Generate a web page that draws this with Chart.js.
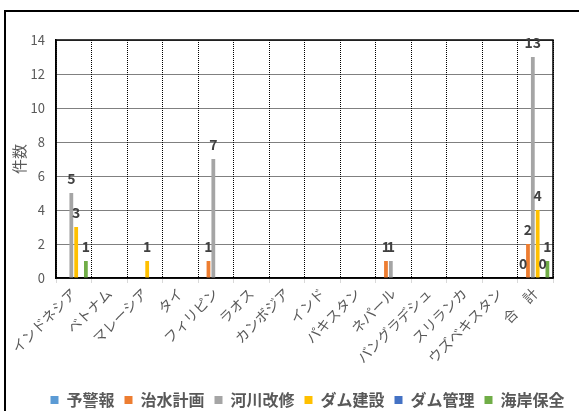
<!DOCTYPE html>
<html>
<head>
<meta charset="utf-8">
<script src="https://cdn.jsdelivr.net/npm/chart.js@4"></script>
<style>
    html,body{margin:0;padding:0;background:#fff;overflow:hidden;}
    #wrap{position:relative;width:579px;height:411px;}
    #frame{position:absolute;left:4px;top:10px;width:640px;height:480px;border:2px solid #000;}
    #usageChart{position:absolute;left:0;top:0;}
</style>
</head>
<body>
<div id="wrap">
    <div id="frame"></div>
    <canvas id="usageChart" width="579" height="411"></canvas>
</div>
<script>

// ==========================
// Data
// ==========================

const countries=[
    "インドネシア","ベトナム","マレーシア","タイ","フィリピン","ラオス","カンボジア",
    "インド","パキスタン","ネパール","バングラデシュ","スリランカ","ウズベキスタン","合　計"
];

const yoKeiho    =[null,null,null,null,null,null,null,null,null,null,null,null,null,0];
const chisuiKeikaku=[null,null,null,null,1,null,null,null,null,1,null,null,null,2];
const kasenKaishu=[5,null,null,null,7,null,null,null,null,1,null,null,null,13];
const damKensetsu=[3,null,1,null,null,null,null,null,null,null,null,null,null,4];
const damKanri   =[null,null,null,null,null,null,null,null,null,null,null,null,null,0];
const kaiganHozen=[1,null,null,null,null,null,null,null,null,null,null,null,null,1];

const yTicks=[0,2,4,6,8,10,12,14];

const FONT="'Noto Sans CJK JP', 'Noto Sans', sans-serif";

// ==========================
// Plugins
// ==========================

// solid box round the plot area
const plotFrame={
    id:"plotFrame",
    beforeDatasetsDraw(chart){
        const a=chart.chartArea, c=chart.ctx;
        c.save();
        c.strokeStyle="#000";
        c.lineWidth=1.5;
        c.strokeRect(a.left,a.top,a.right-a.left,a.bottom-a.top);
        c.restore();
    }
};

// numbers above the bars
const valueLabels={
    id:"valueLabels",
    afterDatasetsDraw(chart){
        const c=chart.ctx;
        c.save();
        c.font="bold 14px "+FONT;
        c.fillStyle="#404040";
        c.textAlign="center";
        c.textBaseline="alphabetic";
        chart.data.datasets.forEach((ds,di)=>{
            chart.getDatasetMeta(di).data.forEach((el,i)=>{
                const v=ds.data[i];
                if(v===null||v===undefined) return;
                c.fillText(String(v),el.x,el.y-9);
            });
        });
        c.restore();
    }
};

// nudge the legend a bit right / down
const legendShift={
    id:"legendShift",
    afterLayout(chart){
        const lg=chart.legend;
        if(!lg) return;
        lg.left+=28; lg.right+=28;
        lg.top+=7; lg.bottom+=7;
    }
};

// ==========================
// Chart
// ==========================

const mk=(label,data,color)=>({
    label:label,
    data:data,
    backgroundColor:color,
    borderWidth:0,
    barPercentage:0.78,
    categoryPercentage:0.82
});

new Chart(document.getElementById("usageChart"),{

    type:"bar",

    data:{
        labels:countries,
        datasets:[
            mk("予警報",yoKeiho,"#5B9BD5"),
            mk("治水計画",chisuiKeikaku,"#ED7D31"),
            mk("河川改修",kasenKaishu,"#A5A5A5"),
            mk("ダム建設",damKensetsu,"#FFC000"),
            mk("ダム管理",damKanri,"#4472C4"),
            mk("海岸保全",kaiganHozen,"#70AD47")
        ]
    },

    options:{
        responsive:false,
        animation:false,
        layout:{
            padding:{left:6,right:26,top:40,bottom:0}
        },
        plugins:{
            legend:{
                position:"bottom",
                labels:{
                    boxWidth:8,
                    boxHeight:8,
                    padding:10,
                    color:"#595959",
                    font:{family:FONT,size:16,weight:"bold"}
                }
            },
            tooltip:{enabled:false}
        },
        scales:{
            x:{
                grid:{
                    color:"#000",
                    tickColor:"#d9d9d9",
                    tickLength:5,
                    offset:true
                },
                border:{color:"#000",width:1.5,dash:[1,1]},
                ticks:{
                    color:"#595959",
                    font:{family:FONT,size:14},
                    minRotation:45,
                    maxRotation:45,
                    autoSkip:false,
                    padding:2
                },
                afterFit(axis){ axis.height=97; }
            },
            y:{
                min:0,
                max:14,
                afterBuildTicks(axis){ axis.ticks=yTicks.map(v=>({value:v})); },
                grid:{color:"#000",drawTicks:false},
                border:{color:"#000",width:1.5,dash:[1,1]},
                ticks:{
                    color:"#595959",
                    font:{family:FONT,size:13},
                    padding:11
                },
                title:{
                    display:true,
                    text:"件数",
                    color:"#595959",
                    font:{family:FONT,size:15},
                    padding:{top:4,bottom:4}
                },
                afterFit(axis){ axis.width=50; }
            }
        }
    },

    plugins:[plotFrame,valueLabels,legendShift]

});

</script>
</body>
</html>
